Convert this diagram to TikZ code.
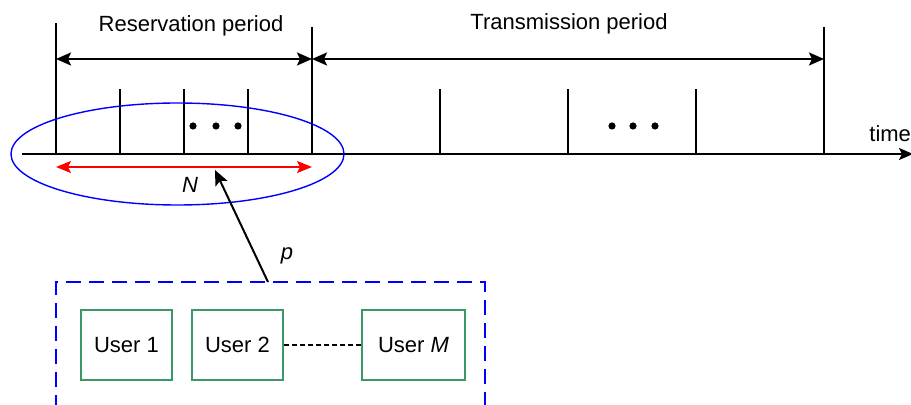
\documentclass[tikz,border=0pt]{standalone}
\usepackage{fontspec}
\setmainfont{Liberation Sans}
\usetikzlibrary{positioning, arrows.meta, calc}
\definecolor{usergreen}{RGB}{60,152,100}

\begin{document}
\begin{tikzpicture}[
                x=0.5pt, y=-0.5pt,
                font=\fontsize{11}{13}\selectfont,
                axis/.style={
                    draw=black, line width=1pt,
                    -{Stealth[length=7pt,width=6pt,inset=1.5pt]}
                },
                slot/.style={
                    draw=black, line width=1pt
                },
                period/.style={
                    draw=black, line width=1pt,
                    {Stealth[length=7.5pt,width=6.5pt,inset=1.5pt]}-{Stealth[length=7.5pt,width=6.5pt,inset=1.5pt]}
                },
                span/.style={
                    draw=red, line width=1pt,
                    {Stealth[length=7.5pt,width=6pt,inset=1.5pt]}-{Stealth[length=7.5pt,width=6pt,inset=1.5pt]}
                },
                userbox/.style={
                    draw=usergreen, line width=1pt,
                    minimum width=45.5pt,
                    minimum height=35pt,
                    inner sep=2pt,
                    align=center
                },
                group/.style={
                    draw=blue, line width=1pt,
                    dash pattern=on 7.5pt off 4pt
                },
                link/.style={
                    draw=black, line width=1pt,
                    dash pattern=on 2.5pt off 1.5pt
                }
            ]

            \useasboundingbox (0,0) rectangle (911,405);

            % --- Zeitachse ---
            \coordinate (axisL) at (22,154);
            \coordinate (axisR) at (913,154);
            \draw[axis] (axisL) -- (axisR);
            \node[anchor=base west, inner sep=0pt] (timeLbl) at (869,142) {time};

            % Grenzen der Perioden (lange Striche)
            \coordinate (resL) at (56,154);
            \coordinate (resR) at (312,154);
            \coordinate (traR) at (824,154);
            \draw[slot] (resL) -- ++(0,-131);
            \draw[slot] (resR) -- ++(0,-127);
            \draw[slot] (traR) -- ++(0,-127);

            % Slots (kurze Striche)
            \foreach \x in {120, 184, 248, 440, 568, 696} {
                \draw[slot] (\x,154) -- (\x,89);
            }

            % Punkte
            \foreach \x in {193, 216, 238, 612, 633, 655} {
                \fill (\x,126) circle [radius=3.6];
            }

            % --- Perioden ---
            \draw[period] ([yshift=47.5pt]resL) -- ([yshift=47.5pt]resR);
            \draw[period] ([yshift=47.5pt]resR) -- ([yshift=47.5pt]traR);
            \node (resLbl) at (191,26) {Reservation period};
            \node (traLbl) at (569,24) {Transmission period};

            % --- Reservierung: N Slots ---
            \draw[span] ([yshift=-6.5pt]resL) -- ([yshift=-6.5pt]resR);
            \node (nLbl) at (190,185) {\itshape N};
            \draw[blue, line width=0.7pt] (177.5,154) ellipse [x radius=166.5, y radius=51];
            \coordinate (tip) at (215,170);

            % --- Benutzer ---
            \node[userbox] (user1) at (126.5,345) {User 1};
            \node[userbox, right=9pt of user1] (user2) {User 2};
            \node[userbox, minimum width=51.5pt, right=38.5pt of user2] (userM) {User \textit{M}};
            \draw[link] (user2.east) -- (userM.west);

            % Gruppe (unten offen, wie abgeschnitten)
            \draw[group] (56,410) -- (56,282) -- (485,282) -- (485,410);
            \coordinate (grpTop) at (268,282);

            \draw[draw=black, line width=1pt, -{Stealth[length=7.5pt,width=6.5pt,inset=1.5pt]}] (grpTop) -- (tip);
            \node (pLbl) at (287,256) {\itshape p};

        \end{tikzpicture}
\end{document}
